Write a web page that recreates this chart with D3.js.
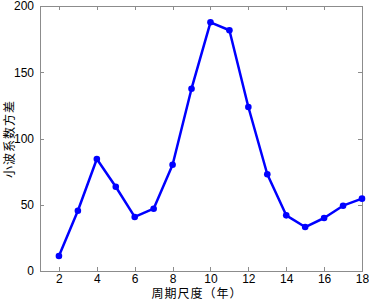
<!DOCTYPE html>
<html lang="zh">
<head>
<meta charset="UTF-8">
<title>小波方差</title>
<script src="https://d3js.org/d3.v7.min.js"></script>
<style>
body{margin:0;background:#fff;}
.axis text{font-family:"Liberation Sans",Arial,sans-serif;font-size:12px;fill:#000;}
.axis path,.axis line{stroke:#8c8c8c;fill:none;shape-rendering:crispEdges;}
.lab{font-family:"Noto Sans CJK SC",sans-serif;font-size:12px;fill:#000;letter-spacing:1px;}
</style>
</head>
<body>
<script>
// 周期尺度与小波方差
var periods = [2,3,4,5,6,7,8,9,10,11,12,13,14,15,16,17,18];
var variance = [11.3,45.5,84.5,63.6,40.8,47,80.2,137.6,187.7,181.7,123.8,73,42,33.2,40,49.3,54.6];
var xTicks = [2,4,6,8,10,12,14,16,18];
var yTicks = [0,50,100,150,200];

var width = 369, height = 302;
var padding = {left:40, right:7, top:6, bottom:31};

var svg = d3.select('body').append('svg')
    .attr('width',width).attr('height',height);

var xScale = d3.scaleLinear().domain([1,18]).range([padding.left,width-padding.right]);
var yScale = d3.scaleLinear().domain([0,200]).range([height-padding.bottom,padding.top]);

// 边框
svg.append('rect')
   .attr('x',padding.left).attr('y',padding.top)
   .attr('width',width-padding.left-padding.right)
   .attr('height',height-padding.top-padding.bottom)
   .attr('fill','none').attr('stroke','#8c8c8c')
   .attr('shape-rendering','crispEdges');

// 坐标轴，刻度朝内
svg.append('g').attr('class','axis')
   .attr('transform','translate(0,'+(height-padding.bottom)+')')
   .call(d3.axisBottom(xScale).tickValues(xTicks).tickSizeInner(-4).tickSizeOuter(0).tickPadding(3));
svg.append('g').attr('class','axis')
   .attr('transform','translate(0,'+padding.top+')')
   .call(d3.axisTop(xScale).tickValues(xTicks).tickSizeInner(-4).tickSizeOuter(0).tickFormat(''));
svg.append('g').attr('class','axis')
   .attr('transform','translate('+padding.left+',0)')
   .call(d3.axisLeft(yScale).tickValues(yTicks).tickSizeInner(-4).tickSizeOuter(0).tickPadding(6));
svg.append('g').attr('class','axis')
   .attr('transform','translate('+(width-padding.right)+',0)')
   .call(d3.axisRight(yScale).tickValues(yTicks).tickSizeInner(-4).tickSizeOuter(0).tickFormat(''));
svg.selectAll('.axis .domain').remove();

// 折线
var line = d3.line()
    .x(function(d,i){return xScale(periods[i])})
    .y(function(d){return yScale(d)});
svg.append('path').datum(variance)
   .attr('d',line).attr('fill','none')
   .attr('stroke','#0000ff').attr('stroke-width',2.5)
   .attr('stroke-linejoin','round');

svg.selectAll('.dot').data(variance).enter().append('circle')
   .attr('class','dot')
   .attr('cx',function(d,i){return xScale(periods[i])})
   .attr('cy',function(d){return yScale(d)})
   .attr('r',3.3).attr('fill','#0000ff');

// 标题
svg.append('text').attr('class','lab')
   .attr('x',197).attr('y',298)
   .attr('text-anchor','middle').text('周期尺度（年）');
svg.append('text').attr('class','lab')
   .attr('transform','translate(14,139) rotate(-90)')
   .attr('text-anchor','middle').text('小波系数方差');
</script>
</body>
</html>
